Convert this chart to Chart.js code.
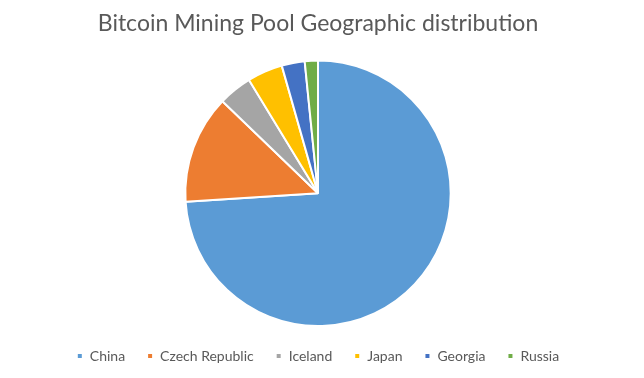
<!DOCTYPE html>
<html>
<head>
<meta charset="utf-8">
<script src="https://cdn.jsdelivr.net/npm/chart.js@4"></script>
<style>
    html, body { margin: 0; padding: 0; background: #fff; }
    #wrap { width: 644px; height: 378px; }
</style>
</head>
<body>
<div id="wrap"><canvas id="chart"></canvas></div>
<script>
const categories = ['China', 'Czech Republic', 'Iceland', 'Japan', 'Georgia', 'Russia'];
const shares = [74, 13.2, 4.1, 4.3, 2.8, 1.6];
const sliceColors = ['#5B9BD5', '#ED7D31', '#A5A5A5', '#FFC000', '#4472C4', '#70AD47'];

const textColor = '#595959';
const fontFamily = "Lato, 'Open Sans', sans-serif";

new Chart(document.getElementById('chart').getContext('2d'), {
    type: 'pie',
    data: {
        labels: categories,
        datasets: [
            {
                data: shares,
                backgroundColor: sliceColors,
                borderColor: '#ffffff',
                borderWidth: 2,
            },
        ],
    },
    options: {
        responsive: true,
        maintainAspectRatio: false,
        animation: false,
        layout: { padding: { top: 0, bottom: 5, right: 8 } },
        plugins: {
            title: {
                display: true,
                text: 'Bitcoin Mining Pool Geographic distribution',
                color: textColor,
                font: { family: fontFamily, size: 23, weight: 'normal' },
                padding: { top: 10, bottom: 22 },
            },
            legend: {
                position: 'bottom',
                labels: {
                    color: textColor,
                    font: { family: fontFamily, size: 14 },
                    usePointStyle: true,
                    pointStyle: 'rect',
                    boxWidth: 6,
                    boxHeight: 6,
                    padding: 22,
                },
            },
            tooltip: { enabled: false },
        },
    },
});
</script>
</body>
</html>
